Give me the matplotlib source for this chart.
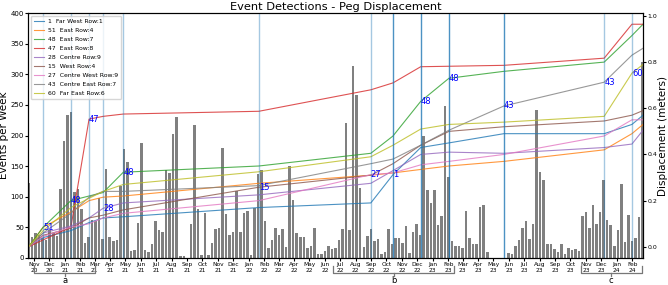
import matplotlib
matplotlib.use('Agg')
import matplotlib.pyplot as plt
import matplotlib.dates as mdates
import matplotlib.transforms as mtransforms
import numpy as np
import pandas as pd

# weekly event counts, one bar per week starting 2020-10-21
first_week = '2020-10-21'
events_per_week = [
    123, 35, 40, 37, 32, 30, 46, 41, 36, 112, 191, 233, 238, 108, 113, 80, 24, 34, 62, 60, 98, 31, 145, 35, 27, 30, 118,
    178, 156, 12, 13, 57, 187, 13, 10, 22, 61, 45, 43, 144, 139, 202, 230,
    3, 3, 0, 55, 218, 80, 4, 73, 4, 25, 47, 49, 180, 71,
    37, 43, 110, 43, 74, 77, 5, 81, 137, 144, 61, 17, 30, 49,
    38, 48, 18, 151, 95, 41, 34, 34, 17, 19, 49, 7, 7, 12,
    19, 15, 16, 30, 48, 221, 45, 314, 267, 114, 18, 36, 47, 27, 31,
    6, 9, 47, 23, 33, 32, 24, 52, 8, 43, 55, 38, 199, 111, 90, 111, 53, 69, 248, 133,
    27, 20, 19, 17, 77, 32, 23, 23, 83, 86, 10,
    0, 0, 0, 0, 0, 8, 6, 19, 29, 49, 61, 31, 56, 241, 140, 128, 22, 22, 14, 10, 23, 6,
    16, 13, 14, 12, 68, 75, 49, 86, 55, 75, 127, 62, 54, 19, 46, 120, 26, 70, 27, 33, 67, 320,
]

# survey dates and peg displacement (m)
survey_dates = ['2020-10-21', '2020-11-19', '2021-01-13', '2021-02-18', '2021-03-18', '2021-04-27',
                '2022-01-21', '2022-08-31', '2022-10-14', '2022-12-08', '2023-02-02', '2023-05-22',
                '2023-12-07', '2024-01-31', '2024-02-22']
peg_labels = ['1  Far West Row:1', '51  East Row:4', '48  East Row:7', '47  East Row:8', '28  Centre Row:9',
              '15  West Row:4', '27  Centre West Row:9', '43  Centre East Row:7', '60  Far East Row:6']
peg_1 = [0, 0.04, 0.07, 0.105, 0.125, 0.13, 0.17, 0.19, 0.3125, 0.43, 0.45, 0.49, 0.49, 0.53, 0.57]
peg_51 = [0, 0.085, 0.15, 0.20, 0.215, 0.22, 0.275, 0.31, 0.32, 0.335, 0.35, 0.37, 0.42, 0.49, 0.53]
peg_48 = [0, 0.085, 0.20, 0.22, 0.235, 0.323, 0.35, 0.405, 0.48, 0.63, 0.73, 0.76, 0.80, 0.915, 0.964]
peg_47 = [0, 0.03, 0.085, 0.553, 0.565, 0.575, 0.587, 0.68, 0.71, 0.78, 0.782, 0.786, 0.817, 0.964, 0.964]
peg_28 = [0, 0.06, 0.09, 0.125, 0.167, 0.19, 0.225, 0.275, 0.33, 0.40, 0.41, 0.405, 0.43, 0.445, 0.505]
peg_15 = [0, 0.05, 0.08, 0.125, 0.137, 0.16, 0.258, 0.31, 0.36, 0.44, 0.50, 0.52, 0.545, 0.57, 0.59]
peg_27 = [0, 0.045, 0.085, 0.10, 0.125, 0.145, 0.20, 0.3125, 0.32, 0.355, 0.37, 0.40, 0.48, 0.55, 0.55]
peg_43 = [0, 0.06, 0.145, 0.215, 0.24, 0.24, 0.265, 0.36, 0.38, 0.44, 0.505, 0.61, 0.713, 0.83, 0.86]
peg_60 = [0, 0.07, 0.17, 0.21, 0.24, 0.27, 0.325, 0.39, 0.44, 0.51, 0.53, 0.54, 0.565, 0.752, 0.79]

# survey index -> peg that moved most (marked with a vertical line)
event_survey = [1, 2, 3, 4, 5, 6, 7, 8, 9, 10, 11, 12, 13]
event_peg = ['51', '48', '47', '28', '48', '15', '27', '1', '48', '48', '43', '43', '60']
event_strong = [False, False, False, False, False, False, False, True, True, True, True, False, False]

# brackets under the x axis
bracket_start = ['2020-11-01', '2022-06-17', '2023-10-22']
bracket_end = ['2021-03-02', '2023-02-12', '2024-02-19']
bracket_text = ['a', 'b', 'c']

pegs = [peg_1, peg_51, peg_48, peg_47, peg_28, peg_15, peg_27, peg_43, peg_60]
peg_ids = [lab.split()[0] for lab in peg_labels]

weeks = pd.date_range(first_week, periods=len(events_per_week), freq='7D')
sdates = pd.to_datetime(survey_dates)

fig = plt.figure(figsize=(6.68, 2.85), dpi=100)
ax = fig.add_axes([0.042, 0.095, 0.9206, 0.859])
ax2 = ax.twinx()

ax.bar(weeks, events_per_week, width=5, color='grey', zorder=2)
ax.set_ylim(0, 400)
ax.set_xlim(pd.Timestamp('2020-10-20'), pd.Timestamp('2024-02-22'))
ax.set_ylabel('Events per Week', fontsize=7.5, labelpad=1)
ax.set_title('Event Detections - Peg Displacement', fontsize=8.2, pad=2)
ax.xaxis.set_major_locator(mdates.MonthLocator())
ax.xaxis.set_major_formatter(mdates.DateFormatter('%b\n%y'))
ax.tick_params(axis='x', labelsize=4.2, length=2, pad=1)
ax.tick_params(axis='y', labelsize=5, length=2, pad=1)

for vals, lab in zip(pegs, peg_labels):
    ax2.plot(sdates, vals, lw=0.8, alpha=0.8, label=lab)

for si, pid, strong in zip(event_survey, event_peg, event_strong):
    d = sdates[si]
    ax2.axvline(d, color='tab:blue', lw=1, alpha=0.8 if strong else 0.4)
    y = pegs[peg_ids.index(pid)][si]
    ax2.text(d, y, pid, color='blue', fontsize=6, ha='left', va='center')

ax2.set_ylabel('Displacement (meters)', fontsize=7.5, labelpad=1)
ax2.tick_params(axis='y', labelsize=4.5, length=2, pad=1)
ax2.legend(loc='upper left', fontsize=4.4, frameon=True, handlelength=1.6, handletextpad=0.7,
           labelspacing=0.6, borderpad=0.5, bbox_to_anchor=(0.0, 1.0))

trans = mtransforms.blended_transform_factory(ax.transData, ax.transAxes)
for s, e, t in zip(bracket_start, bracket_end, bracket_text):
    s = mdates.date2num(pd.Timestamp(s))
    e = mdates.date2num(pd.Timestamp(e))
    m = (s + e) / 2
    kw = dict(transform=trans, color='#777777', lw=0.9, clip_on=False)
    ax.plot([s, s, e, e], [-0.035, -0.061, -0.061, -0.035], **kw)
    ax.plot([m, m], [-0.061, -0.073], **kw)
    ax.text(m, -0.092, t, transform=trans, ha='center', va='center', fontsize=6)

fig.savefig('out.png', dpi=100)
